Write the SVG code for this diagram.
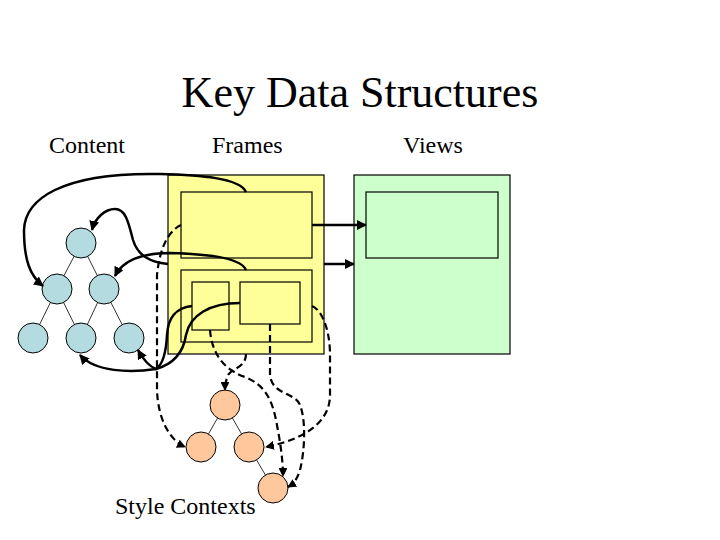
<svg xmlns="http://www.w3.org/2000/svg" width="720" height="540" viewBox="0 0 720 540">
<style>
text{font-family:"Liberation Serif","Times New Roman",serif;fill:#000}
.lbl{font-size:24px}
.box{stroke:#000;stroke-width:1.2}
.yl{fill:#ffff99}
.gr{fill:#ccffcc}
.bc{fill:#b4dce0;stroke:#000;stroke-width:1}
.oc{fill:#ffc89c;stroke:#000;stroke-width:1}
.tree{stroke:#000;stroke-width:0.8;fill:none}
.s{fill:none;stroke:#000;stroke-width:2.5}
.d{fill:none;stroke:#000;stroke-width:2.2;stroke-dasharray:7,4}
</style>
<defs>
<marker id="ah" viewBox="0 0 10 10" refX="9" refY="5" markerWidth="4" markerHeight="4" orient="auto" markerUnits="strokeWidth">
<path d="M0,0 L10,5 L0,10 z" fill="#000"/>
</marker>
</defs>
<rect width="720" height="540" fill="#fff"/>
<text x="360" y="107" font-size="44" text-anchor="middle">Key Data Structures</text>
<text class="lbl" x="49" y="153">Content</text>
<text class="lbl" x="212" y="153">Frames</text>
<text class="lbl" x="403" y="153">Views</text>
<text class="lbl" x="115" y="514">Style Contexts</text>

<g id="frames">
<rect class="box yl" x="168" y="175" width="156" height="179"/>
<rect class="box yl" x="181" y="192" width="131" height="66"/>
<rect class="box yl" x="181" y="270" width="131" height="72"/>
<rect class="box yl" x="192" y="282" width="37" height="48"/>
<rect class="box yl" x="240" y="282" width="60" height="42"/>
</g>
<g id="views">
<rect class="box gr" x="354" y="175" width="156" height="179"/>
<rect class="box gr" x="366" y="192" width="132" height="66"/>
</g>
<g id="content">
<line class="tree" x1="81" y1="243" x2="57" y2="289"/>
<line class="tree" x1="81" y1="243" x2="104" y2="289"/>
<line class="tree" x1="57" y1="289" x2="33" y2="338"/>
<line class="tree" x1="57" y1="289" x2="81" y2="338"/>
<line class="tree" x1="104" y1="289" x2="81" y2="338"/>
<line class="tree" x1="104" y1="289" x2="129" y2="338"/>
<circle class="bc" cx="81" cy="243" r="15"/>
<circle class="bc" cx="57" cy="289" r="15"/>
<circle class="bc" cx="104" cy="289" r="15"/>
<circle class="bc" cx="33" cy="338" r="15"/>
<circle class="bc" cx="81" cy="338" r="15"/>
<circle class="bc" cx="129" cy="338" r="15"/>
</g>
<g id="style-contexts">
<line class="tree" x1="225" y1="405" x2="201" y2="447"/>
<line class="tree" x1="225" y1="405" x2="249" y2="447"/>
<line class="tree" x1="249" y1="447" x2="273" y2="488"/>
<circle class="oc" cx="225" cy="405" r="15"/>
<circle class="oc" cx="201" cy="447" r="15"/>
<circle class="oc" cx="249" cy="447" r="15"/>
<circle class="oc" cx="273" cy="488" r="15"/>
</g>
<g id="connectors">
<path class="s" marker-end="url(#ah)" d="M312,225 L366,225"/>
<path class="s" marker-end="url(#ah)" d="M324,264 L354,264"/>
<path class="s" marker-end="url(#ah)" d="M246,192 C240,178 200,175 160,174 C60,172 25,200 24,230 C24,260 30,276 43,286"/>
<path class="s" marker-end="url(#ah)" d="M168,264 C150,262 138,256 133,240 C128,220 125,209 115,209 C105,209 95,218 92,230"/>
<path class="s" marker-end="url(#ah)" d="M246,270 C240,256 200,254 170,253 C140,253 122,262 115,276"/>
<path class="s" marker-end="url(#ah)" d="M192,306 C175,308 168,318 167,335 C166,355 162,365 156,369 C130,373 95,372 80,355"/>
<path class="s" marker-end="url(#ah)" d="M240,303 C210,303 190,315 186,335 C183,355 170,365 156,369 C148,366 143,359 138,350"/>
<path class="d" marker-end="url(#ah)" d="M181,225 C170,230 160,245 157,275 L157,390 C158,420 170,440 185,447"/>
<path class="d" marker-end="url(#ah)" d="M210,330 C212,355 225,370 245,377 C265,385 272,400 276,420 C280,440 283,460 283,476"/>
<path class="d" marker-end="url(#ah)" d="M246,354 C246,368 232,368 228,375 C226,380 225,385 225,390"/>
<path class="d" marker-end="url(#ah)" d="M270,324 L270,375 C272,395 295,392 300,405 C306,420 305,450 300,470 C297,480 293,484 288,487"/>
<path class="d" marker-end="url(#ah)" d="M312,306 C322,310 330,330 330,355 L330,395 C330,425 300,440 266,447"/>
</g>
</svg>
